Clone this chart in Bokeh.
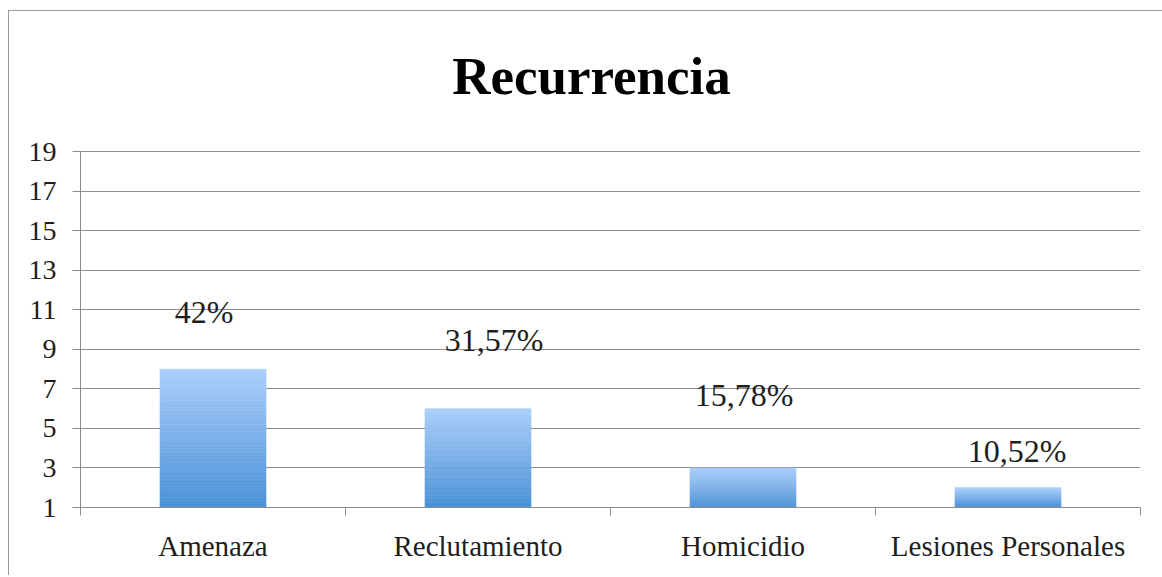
from bokeh.plotting import figure
from bokeh.models import ColumnDataSource, FixedTicker, Range1d
from bokeh.embed import file_html
from bokeh.resources import INLINE
from bokeh.core.properties import value

# ---- data ----
categories = ["Amenaza", "Reclutamiento", "Homicidio", "Lesiones Personales"]
counts = [8, 6, 3, 2]
percent_labels = ["42%", "31,57%", "15,78%", "10,52%"]
label_y = [10.9, 9.5, 6.7, 3.85]          # where the % labels sit (data units)
y_ticks = [1, 3, 5, 7, 9, 11, 13, 15, 17, 19]
title_text = "Recurrencia"

# ---- style ----
FONT = "Liberation Serif"
GRID = "#8c8c8c"
TOP_RGB = (172, 207, 251)
BOTTOM_RGB = (74, 144, 214)
N_SLICES = 40
BAR_W = 0.4
label_dx = [-9, 16, 1, 9]
HEADROOM = 7.1   # extra room (in axis units) above the top tick, used for the title

y_min, y_max = y_ticks[0], y_ticks[-1]
centers = [i + 0.5 for i in range(len(categories))]

p = figure(width=1154, height=565, output_backend="svg", toolbar_location=None,
           x_range=Range1d(0, len(categories)), y_range=Range1d(y_min, y_max + HEADROOM),
           min_border_left=71, min_border_right=23, min_border_top=0, min_border_bottom=69,
           styles={"border-left": "1px solid #9a9a9a", "border-top": "1px solid #9a9a9a",
                   "margin-top": "10px", "margin-left": "8px"})
p.title = None
p.outline_line_color = None
p.background_fill_color = "white"
p.border_fill_color = "white"

# gradient bars: each bar split into thin slices (light at top, darker at bottom)
xs, bottoms, tops, colors = [], [], [], []
for c, v in zip(centers, counts):
    for k in range(N_SLICES):
        b = y_min + (v - y_min) * k / N_SLICES
        t = y_min + (v - y_min) * (k + 1) / N_SLICES
        f = (k + 0.5) / N_SLICES
        rgb = tuple(int(round(BOTTOM_RGB[j] + (TOP_RGB[j] - BOTTOM_RGB[j]) * f)) for j in range(3))
        xs.append(c); bottoms.append(b); tops.append(t)
        colors.append("#%02x%02x%02x" % rgb)
src = ColumnDataSource(dict(x=xs, bottom=bottoms, top=tops, color=colors))
p.vbar(x="x", bottom="bottom", top="top", width=BAR_W, source=src,
       fill_color="color", line_color="color", line_width=0.6)

# percentage labels
lsrc = ColumnDataSource(dict(x=centers, y=label_y, text=percent_labels, dx=label_dx))
p.text(x="x", y="y", text="text", x_offset="dx", source=lsrc,
       text_align="center", text_baseline="middle",
       text_font=value(FONT), text_font_size="32px", text_color="#1e1e1e")

# title, drawn above the top gridline
p.text(x=[len(categories) / 2], y=[y_max], text=[title_text], x_offset=-19, y_offset=-76,
       text_align="center", text_baseline="alphabetic",
       text_font=value(FONT), text_font_style="bold", text_font_size="53px",
       text_color="#000000")

# grid
p.xgrid.visible = False
p.ygrid.ticker = FixedTicker(ticks=y_ticks)
p.ygrid.grid_line_color = GRID
p.ygrid.grid_line_width = 1.2

# y axis
ya = p.yaxis[0]
ya.ticker = FixedTicker(ticks=y_ticks)
ya.bounds = (y_min, y_max)
ya.axis_line_color = GRID
ya.major_tick_line_color = GRID
ya.major_tick_out = 8
ya.major_tick_in = 0
ya.minor_tick_out = 0
ya.minor_tick_in = 0
ya.major_label_standoff = 16
ya.major_label_text_font = FONT
ya.major_label_text_font_size = "28px"
ya.major_label_text_color = "#1e1e1e"

# x axis: labels at category centres, tick marks at category boundaries
xa = p.xaxis[0]
xa.ticker = FixedTicker(ticks=centers, minor_ticks=list(range(len(categories) + 1)))
xa.major_label_overrides = {c: name for c, name in zip(centers, categories)}
xa.axis_line_color = GRID
xa.major_tick_out = 0
xa.major_tick_in = 0
xa.minor_tick_out = 8
xa.minor_tick_in = 0
xa.minor_tick_line_color = GRID
xa.major_label_standoff = 14
xa.major_label_text_font = FONT
xa.major_label_text_font_size = "29px"
xa.major_label_text_color = "#1e1e1e"

open("out.html", "w").write(file_html(p, INLINE))
